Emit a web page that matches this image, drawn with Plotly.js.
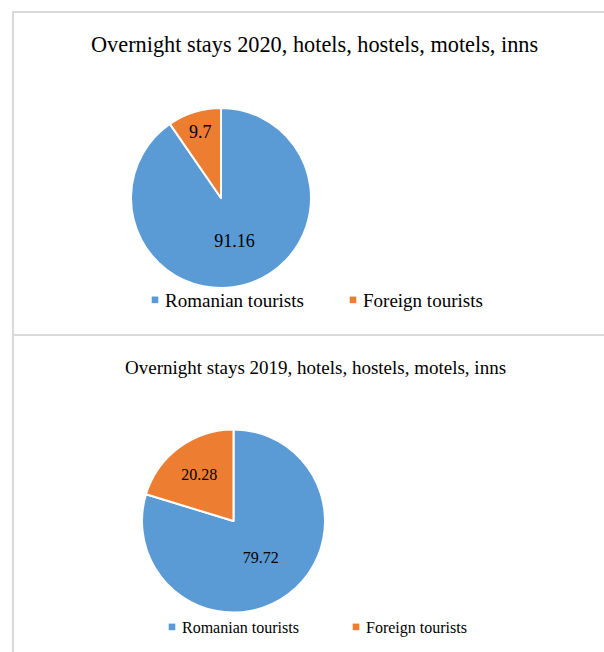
<!DOCTYPE html>
<html>
<head>
<meta charset="utf-8">
<script src="https://cdn.plot.ly/plotly-3.0.1.min.js"></script>
<style>
html,body{margin:0;padding:0;background:#fff;}
#wrap{position:relative;width:604px;height:652px;overflow:hidden;}
#top{position:absolute;left:0;top:0;width:604px;height:335px;}
#bottom{position:absolute;left:0;top:334px;width:604px;height:318px;}
</style>
</head>
<body>
<div id="wrap"><div id="top"></div><div id="bottom"></div></div>
<script>
// ---- data ----
const categories = ["Romanian tourists", "Foreign tourists"];
const values2020 = [91.16, 9.7];
const values2019 = [79.72, 20.28];
const title2020 = "Overnight stays 2020, hotels, hostels, motels, inns";
const title2019 = "Overnight stays 2019, hotels, hostels, motels, inns";

const colors = ["#5B9BD5", "#ED7D31"];
const serif = "'Liberation Serif', 'Times New Roman', serif";
const borderColor = "#d9d9d9";
const W = 604;

function shrinkLegendSymbols(gd) {
  gd.querySelectorAll("path.legendpie").forEach(p => {
    p.style.transform = "";
    p.setAttribute("transform", "translate(30,0) scale(0.55)");
    p.style.strokeWidth = "0px";
  });
}

function makeChart(divId, H, offY, opts) {
  const px = v => v / W;
  const py = v => 1 - (v - offY) / H;
  const trace = {
    type: "pie", labels: categories, values: opts.values, sort: false,
    direction: "clockwise", rotation: 0,
    marker: {colors: colors, line: {color: "#ffffff", width: 2}},
    textinfo: "value", textposition: "inside", insidetextorientation: "horizontal",
    texttemplate: "%{value}",
    textfont: {family: serif, size: opts.labelSize, color: "#000000"},
    domain: {x: [px(opts.pie[0]), px(opts.pie[1])], y: [py(opts.pie[3]), py(opts.pie[2])]},
    hoverinfo: "label+value"
  };
  const shapes = [
    {type: "line", xref: "paper", yref: "paper", x0: px(13), x1: px(13),
     y0: py(opts.borderTop), y1: py(offY + H), line: {color: borderColor, width: 2}},
    {type: "line", xref: "paper", yref: "paper", x0: px(12), x1: px(604),
     y0: py(opts.borderTop), y1: py(opts.borderTop), line: {color: borderColor, width: 2}}
  ];
  const layout = {
    width: W, height: H,
    margin: {l: 0, r: 0, t: 0, b: 0},
    paper_bgcolor: "#ffffff",
    font: {family: serif, color: "#000000"},
    showlegend: true,
    legend: {
      orientation: "h", x: px(opts.legX), xanchor: "left", y: py(opts.legY), yanchor: "middle",
      font: {family: serif, size: opts.legSize, color: "#000000"},
      entrywidth: opts.entryW, entrywidthmode: "pixels", itemwidth: 30,
      bgcolor: "rgba(0,0,0,0)"
    },
    annotations: [
      {text: opts.title, xref: "paper", yref: "paper", x: px(opts.titleX), y: py(opts.titleY),
       xanchor: "center", yanchor: "middle", showarrow: false,
       font: {family: serif, size: opts.titleSize, color: "#000000"}}
    ],
    shapes: shapes
  };
  Plotly.newPlot(divId, [trace], layout, {displayModeBar: false, staticPlot: true})
    .then(gd => shrinkLegendSymbols(gd));
}

makeChart("top", 335, 0, {
  values: values2020, labelSize: 18, pie: [131, 311, 108, 288],
  legX: 125, legY: 300, legSize: 19, entryW: 153,
  title: title2020, titleX: 314, titleY: 45, titleSize: 22.3, borderTop: 12
});
makeChart("bottom", 318, 334, {
  values: values2019, labelSize: 16, pie: [142, 325, 429, 613],
  legX: 142, legY: 627, legSize: 16, entryW: 139,
  title: title2019, titleX: 315, titleY: 368, titleSize: 19, borderTop: 335
});
</script>
</body>
</html>
